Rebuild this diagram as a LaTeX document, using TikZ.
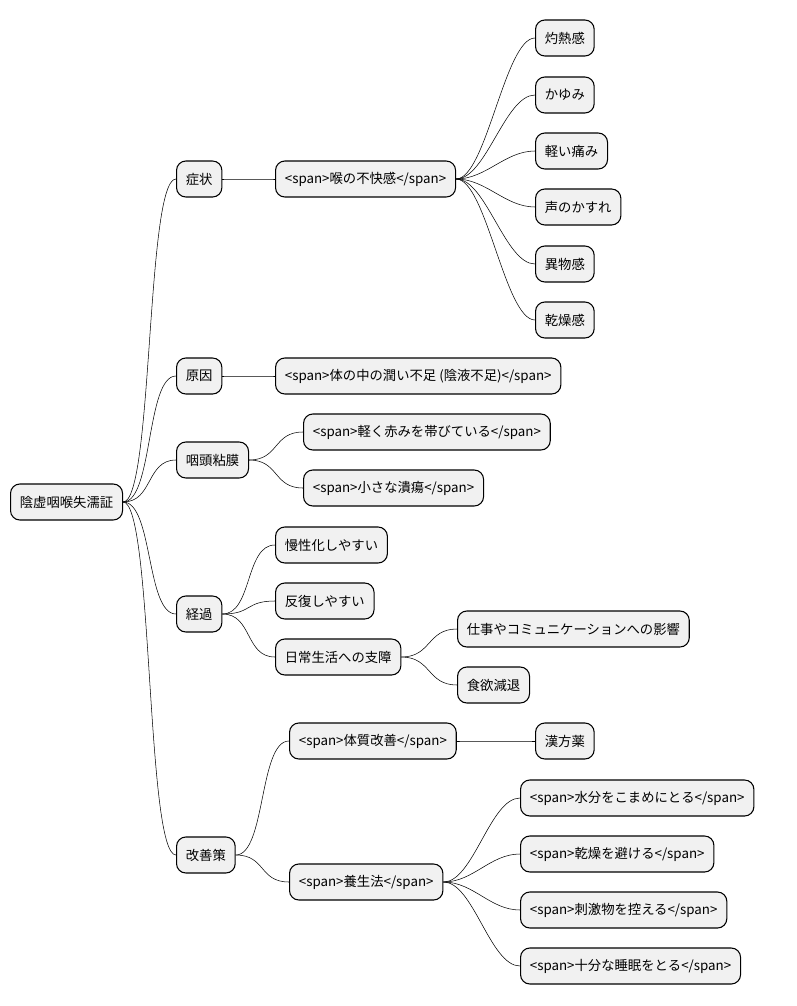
\documentclass[tikz,border=0pt]{standalone}
\usepackage{fontspec}
\setmainfont{Noto Sans CJK JP}
\usetikzlibrary{positioning}
\definecolor{boxfill}{RGB}{241,241,241}
\tikzset{
  topic/.style={draw, thick, rounded corners=7pt, fill=boxfill, anchor=west,
    minimum height=27pt, inner xsep=7pt, font=\fontsize{10}{12}\selectfont},
  link/.style={thin}
}
\newcommand{\branch}[2]{\draw[link] (#1.east) .. controls +(30,0) and +(-30,0) .. (#2.west);}
\begin{document}
\begin{tikzpicture}[x=0.75pt,y=-0.75pt]
\useasboundingbox (0,0) rectangle (796,1006);
% Root
\node[topic] (root) at (10,502) {陰虚咽喉失濡証};
% Symptoms
\node[topic] (sym) at (176,179) {症状};
\node[topic] (throat) at (275,179) {<span>喉の不快感</span>};
\node[topic] (s1) at (535,38) {灼熱感};
\node[topic] (s2) at (535,95) {かゆみ};
\node[topic] (s3) at (535,151) {軽い痛み};
\node[topic] (s4) at (535,207) {声のかすれ};
\node[topic] (s5) at (535,264) {異物感};
\node[topic] (s6) at (535,320) {乾燥感};
% Cause
\node[topic] (cause) at (176,376) {原因};
\node[topic] (lack) at (275,376) {<span>体の中の潤い不足 (陰液不足)</span>};
% Mucosa
\node[topic] (muc) at (176,460) {咽頭粘膜};
\node[topic] (red) at (303,432) {<span>軽く赤みを帯びている</span>};
\node[topic] (ulc) at (303,488) {<span>小さな潰瘍</span>};
% Course
\node[topic] (course) at (176,614) {経過};
\node[topic] (c1) at (275,545) {慢性化しやすい};
\node[topic] (c2) at (275,601) {反復しやすい};
\node[topic] (c3) at (275,657) {日常生活への支障};
\node[topic] (c31) at (457,629) {仕事やコミュニケーションへの影響};
\node[topic] (c32) at (457,685) {食欲減退};
% Remedies
\node[topic] (fix) at (176,855) {改善策};
\node[topic] (body) at (289,741) {<span>体質改善</span>};
\node[topic] (kampo) at (535,741) {漢方薬};
\node[topic] (care) at (289,882) {<span>養生法</span>};
\node[topic] (r1) at (520,798) {<span>水分をこまめにとる</span>};
\node[topic] (r2) at (520,854) {<span>乾燥を避ける</span>};
\node[topic] (r3) at (520,910) {<span>刺激物を控える</span>};
\node[topic] (r4) at (520,966) {<span>十分な睡眠をとる</span>};
% Connections
\foreach \c in {sym,cause,muc,course,fix} {\branch{root}{\c}}
\branch{sym}{throat}
\foreach \c in {s1,s2,s3,s4,s5,s6} {\branch{throat}{\c}}
\branch{cause}{lack}
\branch{muc}{red}
\branch{muc}{ulc}
\foreach \c in {c1,c2,c3} {\branch{course}{\c}}
\branch{c3}{c31}
\branch{c3}{c32}
\branch{fix}{body}
\branch{fix}{care}
\branch{body}{kampo}
\foreach \c in {r1,r2,r3,r4} {\branch{care}{\c}}
\end{tikzpicture}
\end{document}
